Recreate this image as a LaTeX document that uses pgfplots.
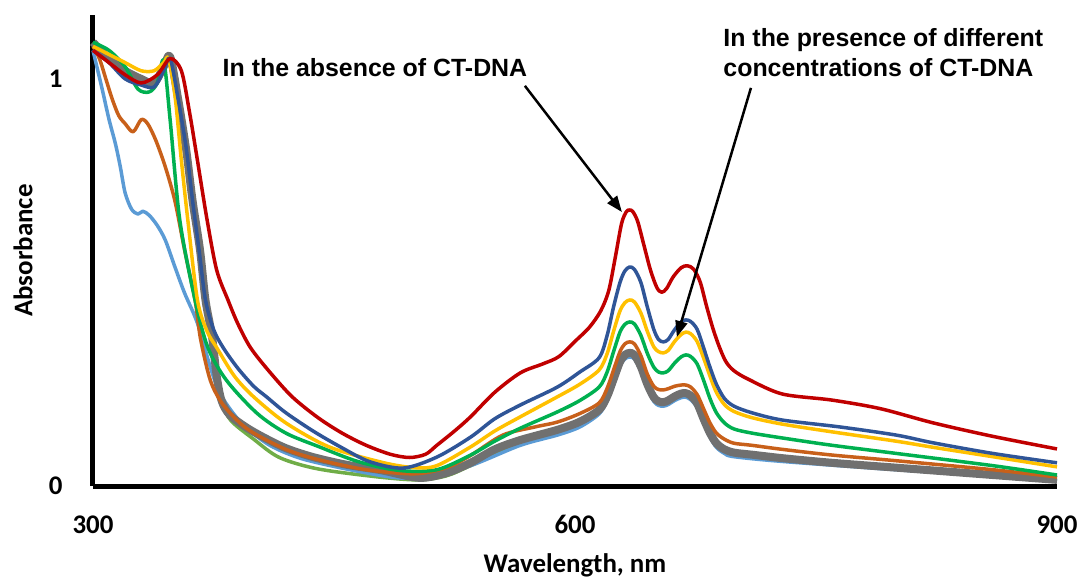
\documentclass[border=0pt]{standalone}
\usepackage{pgfplots}
\pgfplotsset{compat=1.18}
\usepackage{fontspec}
\setmainfont{Carlito}
\newfontfamily\arialfont{Liberation Sans}
\usetikzlibrary{arrows.meta}

\definecolor{cred}{HTML}{C00000}
\definecolor{cdblue}{HTML}{2F5597}
\definecolor{cyellow}{HTML}{FFC000}
\definecolor{cgreen}{HTML}{00B050}
\definecolor{corange}{HTML}{C8601A}
\definecolor{clblue}{HTML}{5B9BD5}
\definecolor{clgreen}{HTML}{70AD47}
\definecolor{cgray}{HTML}{707070}

\begin{document}
\begin{tikzpicture}
\useasboundingbox (-93bp,-95bp) rectangle (992bp,486bp);
\begin{axis}[
  scale only axis,
  width=964bp, height=471bp,
  xmin=300, xmax=900, ymin=0, ymax=1.157,
  axis x line*=bottom, axis y line*=left,
  axis line style={line width=5bp, -},
  xtick={300,600,900}, ytick={0,1},
  major tick length=0pt,
  /pgf/number format/assume math mode=true,
  tick label style={font=\fontsize{27}{30}\selectfont\bfseries},
  xticklabel style={yshift=-26bp},
  yticklabel style={xshift=-27bp},
  xlabel={Wavelength, nm},
  ylabel={Absorbance},
  label style={font=\fontsize{27}{30}\selectfont\bfseries},
  xlabel style={at={(axis description cs:0.5,-0.168)}, anchor=center},
  ylabel style={at={(axis description cs:-0.0726,0.5)}, anchor=center},
  clip=false,
  every axis plot/.append style={smooth, line join=round},
]

% light green (mostly hidden)
\addplot[clgreen, line width=3.5bp] coordinates {
(300,1.09)(310,1.05)(320,1.02)(330,1.0)(338,0.99)(344,1.03)(348,1.05)(353,0.95)(358,0.826)(362,0.70)(366,0.58)(370,0.457)(374,0.37)(377,0.27)(381,0.2)(386,0.16)(400,0.115)(416,0.07)(440,0.042)(478,0.022)(503,0.015)(520,0.025)(535,0.05)(566,0.105)(589,0.13)(603,0.151)
(615,0.18)(620,0.213)(624,0.255)(628,0.298)(631,0.315)(634,0.32)(637,0.315)(641,0.286)(645,0.243)(649,0.211)(652,0.201)(655,0.199)(658,0.203)(662,0.213)(666,0.22)(669,0.221)(672,0.215)(676,0.196)(680,0.158)(684,0.123)(688,0.098)(693,0.083)(699,0.075)
(730,0.063)(800,0.042)(900,0.013)
};
% light blue
\addplot[clblue, line width=3.5bp] coordinates {
(300,1.07)(303,1.02)(306,0.97)(310,0.9)(314,0.84)(317,0.784)(320,0.72)(324,0.68)(328,0.668)(331,0.675)(335,0.665)(340,0.64)(345,0.604)(351,0.538)(357,0.474)(365,0.40)(373,0.292)(379,0.228)(387,0.18)(395,0.145)(410,0.1)(430,0.067)(460,0.04)(490,0.02)(510,0.025)(535,0.05)(566,0.1)(589,0.125)(603,0.145)
(615,0.177)(620,0.21)(624,0.252)(628,0.295)(631,0.312)(634,0.317)(637,0.312)(641,0.283)(645,0.24)(649,0.208)(652,0.198)(655,0.196)(658,0.2)(662,0.21)(666,0.217)(669,0.218)(672,0.212)(676,0.193)(680,0.155)(684,0.12)(688,0.095)(693,0.08)(699,0.072)
(730,0.06)(800,0.04)(860,0.025)(900,0.012)
};
% gray (thick)
\addplot[cgray, line width=8bp] coordinates {
(300,1.09)(310,1.05)(320,1.02)(330,1.0)(338,0.99)(344,1.03)(348,1.055)(353,0.95)(358,0.826)(362,0.70)(366.6,0.58)(370,0.457)(374,0.37)(377,0.27)(380,0.21)(385,0.175)(395,0.145)(406,0.12)(420,0.093)(437,0.071)(458,0.052)(479,0.039)(503,0.02)(520,0.032)(535,0.057)(550,0.09)(566,0.113)(589,0.138)(603,0.158)
(615,0.187)(620,0.22)(624,0.262)(628,0.305)(631,0.322)(634,0.327)(637,0.322)(641,0.293)(645,0.25)(649,0.218)(652,0.208)(655,0.206)(658,0.21)(662,0.22)(666,0.227)(669,0.228)(672,0.222)(676,0.203)(680,0.165)(684,0.13)(688,0.105)(693,0.09)(699,0.082)
(710,0.077)(730,0.068)(760,0.057)(800,0.045)(850,0.03)(900,0.015)
};
% orange
\addplot[corange, line width=3.5bp] coordinates {
(300,1.08)(304,1.05)(308,1.0)(312,0.95)(316,0.91)(320,0.89)(325,0.87)(330,0.9)(334,0.89)(339,0.85)(345,0.784)(351,0.70)(357,0.58)(363.5,0.457)(367,0.36)(373,0.26)(380,0.205)(390,0.16)(400,0.13)(420,0.09)(440,0.065)(470,0.04)(500,0.03)(520,0.045)(535,0.075)(555,0.125)(575,0.145)(589,0.157)(603,0.178)
(615,0.204)(620,0.24)(624,0.285)(628,0.33)(631,0.349)(634,0.354)(637,0.349)(641,0.32)(645,0.275)(649,0.245)(652,0.237)(655,0.236)(658,0.239)(662,0.245)(666,0.248)(669,0.248)(672,0.243)(676,0.225)(680,0.19)(684,0.155)(688,0.13)(693,0.115)(699,0.105)
(710,0.1)(729,0.09)(760,0.076)(800,0.062)(860,0.04)(900,0.022)
};
% green
\addplot[cgreen, line width=3.5bp] coordinates {
(300,1.09)(310,1.07)(320,1.03)(328,0.975)(335,0.968)(340,0.99)(344,1.045)(348,0.9)(354,0.654)(363.5,0.457)(371.5,0.34)(383,0.26)(402,0.179)(420,0.13)(441,0.096)(465,0.06)(491,0.038)(514,0.04)(535,0.076)(550,0.11)(566,0.142)(589,0.182)(603,0.21)
(615,0.243)(620,0.28)(624,0.33)(628,0.378)(631,0.397)(634,0.403)(637,0.398)(641,0.37)(645,0.326)(649,0.292)(652,0.28)(655,0.278)(658,0.283)(662,0.302)(666,0.317)(669,0.322)(672,0.318)(676,0.3)(680,0.26)(684,0.215)(688,0.18)(693,0.155)(699,0.14)
(710,0.13)(729,0.118)(760,0.10)(800,0.08)(860,0.05)(900,0.027)
};
% yellow
\addplot[cyellow, line width=3.5bp] coordinates {
(300,1.08)(310,1.06)(320,1.04)(330,1.02)(338,1.02)(344,1.04)(347,1.05)(351,0.96)(355,0.80)(359,0.654)(365,0.457)(371,0.38)(377,0.34)(388,0.27)(400,0.219)(420,0.155)(447,0.096)(480,0.058)(500,0.045)(514,0.05)(535,0.096)(550,0.135)(566,0.17)(589,0.219)(603,0.25)
(615,0.285)(620,0.325)(624,0.38)(628,0.43)(631,0.45)(634,0.457)(637,0.452)(641,0.425)(645,0.38)(649,0.342)(652,0.33)(655,0.327)(658,0.333)(662,0.355)(666,0.372)(669,0.378)(672,0.374)(676,0.355)(680,0.315)(684,0.27)(688,0.23)(693,0.2)(699,0.183)
(710,0.168)(729,0.152)(760,0.133)(800,0.11)(823,0.095)(860,0.072)(900,0.047)
};
% dark blue
\addplot[cdblue, line width=3.5bp] coordinates {
(300,1.07)(310,1.04)(320,1.0)(330,0.985)(338,0.98)(344,1.02)(348,1.05)(353,0.95)(358,0.83)(362,0.70)(366,0.58)(370,0.457)(375,0.385)(381,0.34)(390,0.29)(400,0.245)(408,0.219)(420,0.18)(437,0.135)(454,0.096)(472,0.06)(493,0.044)(514,0.071)(535,0.12)(550,0.165)(566,0.199)(589,0.243)(603,0.28)
(615,0.315)(620,0.37)(624,0.44)(628,0.5)(631,0.528)(634,0.538)(637,0.532)(641,0.5)(645,0.44)(649,0.385)(652,0.36)(655,0.354)(658,0.36)(662,0.384)(666,0.403)(669,0.408)(672,0.404)(676,0.385)(680,0.34)(684,0.292)(688,0.25)(693,0.215)(699,0.196)
(710,0.18)(729,0.162)(765,0.145)(800,0.125)(823,0.106)(860,0.08)(900,0.057)
};
% red (absence of CT-DNA)
\addplot[cred, line width=3.5bp] coordinates {
(300,1.07)(310,1.04)(320,1.01)(330,0.99)(340,1.01)(348,1.05)(355,1.02)(360,0.92)(365,0.80)(371,0.654)(377,0.53)(384,0.457)(390,0.40)(398,0.34)(410,0.28)(424,0.219)(440,0.168)(455,0.13)(470,0.10)(485,0.078)(497,0.07)(507,0.078)(514,0.10)(525,0.135)(535,0.17)(550,0.23)(566,0.278)(580,0.30)(590,0.318)(601,0.359)(609,0.39)
(616,0.43)(621,0.48)(625,0.56)(629,0.645)(632,0.674)(634,0.678)(636,0.674)(639,0.65)(643,0.59)(647,0.53)(651,0.487)(654,0.476)(657,0.485)(661,0.513)(666,0.536)(670,0.541)(674,0.532)(678,0.5)(682,0.44)(686,0.385)(690,0.34)(694,0.305)(699,0.283)
(708,0.262)(729,0.226)(760,0.211)(790,0.19)(823,0.155)(860,0.122)(900,0.091)
};

\node[font=\arialfont\bfseries\fontsize{25}{28}\selectfont, anchor=base]
  at (axis cs:475.5,1.005) {In the absence of CT-DNA};
\node[font=\arialfont\bfseries\fontsize{25}{28}\selectfont, anchor=base west]
  at (axis cs:690.2,1.079) {In the presence of different};
\node[font=\arialfont\bfseries\fontsize{25}{28}\selectfont, anchor=base west]
  at (axis cs:690.2,1.005) {concentrations of CT-DNA};

\draw[line width=2.5bp, -{Triangle[length=16bp,width=12bp]}]
  (axis cs:568.8,0.983) -- (axis cs:629.2,0.673);
\draw[line width=2.5bp, -{Triangle[length=16bp,width=12bp]}]
  (axis cs:709.5,0.978) -- (axis cs:663.4,0.366);
\end{axis}
\end{tikzpicture}
\end{document}
